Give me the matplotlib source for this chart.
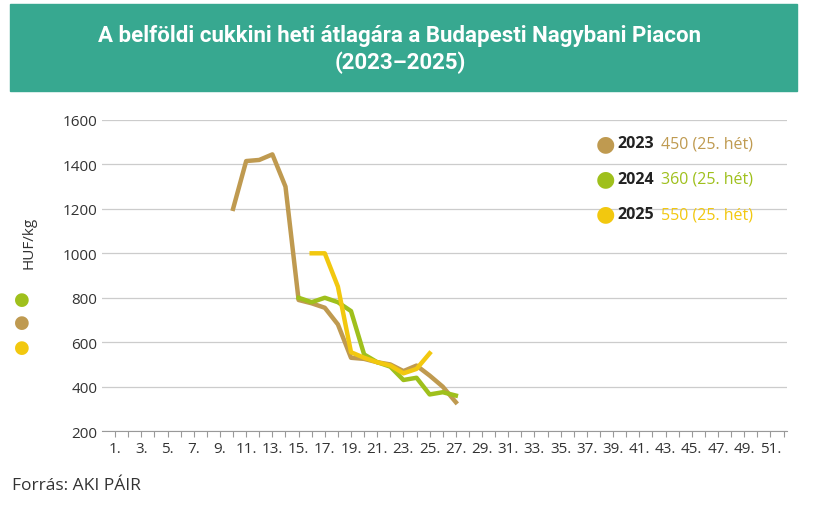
import matplotlib
matplotlib.use("Agg")
import matplotlib.pyplot as plt
from matplotlib.patches import Rectangle

plt.rcParams['font.family'] = ['Open Sans', 'DejaVu Sans']

weeks_2023 = list(range(10, 28))
vals_2023 = [1200, 1415, 1420, 1445, 1300, 790, 775, 755, 680, 530, 525, 510, 500, 470, 495, 450, 400, 330]
weeks_2024 = list(range(15, 28))
vals_2024 = [800, 780, 800, 780, 740, 545, 510, 490, 430, 440, 365, 375, 360]
weeks_2025 = list(range(16, 26))
vals_2025 = [1000, 1000, 850, 555, 530, 510, 495, 460, 480, 550]

c23, c24, c25 = '#bf9a50', '#9fc01c', '#f2c80f'

fig = plt.figure(figsize=(8.16, 5.06), dpi=100)
fig.patches.append(Rectangle((0.012, 0.818), 0.965, 0.172, transform=fig.transFigure,
                             color='#37a890', zorder=0))
fig.text(0.49, 0.903, 'A belföldi cukkini heti átlagára a Budapesti Nagybani Piacon\n(2023–2025)',
         ha='center', va='center', color='white', fontsize=16, fontweight='bold',
         fontfamily=['Roboto', 'DejaVu Sans'], linespacing=1.25)

ax = fig.add_axes([0.125, 0.146, 0.84, 0.615])
ax.plot(weeks_2023, vals_2023, color=c23, lw=3.2)
ax.plot(weeks_2024, vals_2024, color=c24, lw=3.2)
ax.plot(weeks_2025, vals_2025, color=c25, lw=3.2)

ax.set_xlim(0, 52.3)
ax.set_ylim(200, 1600)
ax.set_yticks(range(200, 1601, 200))
ax.set_xticks(range(1, 53))
ax.set_xticklabels([f'{w}.' if w % 2 else '' for w in range(1, 53)])
ax.tick_params(axis='x', length=4, color='#999999', labelsize=11, pad=3, labelcolor='#333333')
ax.tick_params(axis='y', length=0, labelsize=11, labelcolor='#333333')
ax.grid(axis='y', color='#cccccc', lw=0.9)
ax.set_axisbelow(True)
for s in ['top', 'right', 'left']:
    ax.spines[s].set_visible(False)
ax.spines['bottom'].set_color('#999999')

fig.text(0.035, 0.52, 'HUF/kg', rotation=90, ha='center', va='center', fontsize=11, color='#333333')
for y, c in [(0.408, c24), (0.362, c23), (0.312, c25)]:
    fig.text(0.027, y, '●', color=c, fontsize=13, ha='center', va='center')

for i, (yr, txt, c) in enumerate([('2023', '450 (25. hét)', c23),
                                  ('2024', '360 (25. hét)', c24),
                                  ('2025', '550 (25. hét)', c25)]):
    y = 0.715 - i * 0.07
    fig.text(0.742, y, '●', color=c, fontsize=16, ha='center', va='center')
    fig.text(0.757, y, yr, fontweight='bold', fontsize=11.5, va='center', color='#222222')
    fig.text(0.81, y, txt, fontsize=11.5, va='center', color=c)

fig.text(0.015, 0.04, 'Forrás: AKI PÁIR', fontsize=12.5, color='#333333', va='center')
fig.savefig('out.png', dpi=100)
